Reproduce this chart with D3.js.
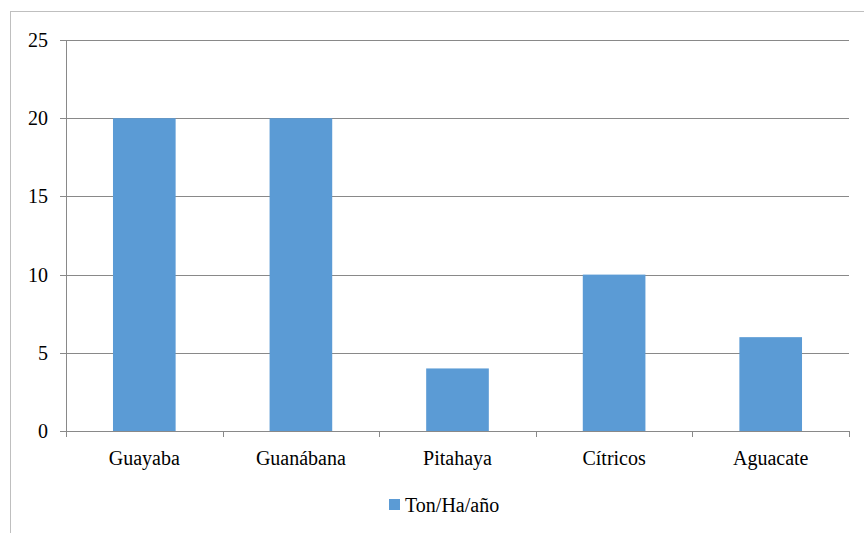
<!DOCTYPE html>
<html><head><meta charset="utf-8">
<script src="https://cdn.jsdelivr.net/npm/d3@7"></script>
</head><body style="margin:0">
<script>
const categories = ["Guayaba","Guanábana","Pitahaya","Cítricos","Aguacate"];
const values = [20,20,4,10,6];
const yTicks = [0,5,10,15,20,25];
const seriesName = "Ton/Ha/año";

const W=864,H=533;
const FONT="'Times New Roman', 'Liberation Serif', Tinos, serif";
const FS="20px";
const svg=d3.select("body").append("svg").attr("width",W).attr("height",H)
  .attr("font-family",FONT).style("font-family",FONT);
// chart border
svg.append("rect").attr("x",10.5).attr("y",11.5).attr("width",900).attr("height",600)
  .attr("fill","none").attr("stroke","#bfbfbf");
const L=66,R=849,T=40,B=431;
const x=d3.scaleBand().domain(categories).range([L,R]).paddingInner(0).paddingOuter(0);
const y=d3.scaleLinear().domain([0,25]).range([B,T]);
// gridlines
svg.append("g").selectAll("line").data(yTicks).join("line")
  .attr("x1",L-6).attr("x2",R).attr("y1",d=>Math.round(y(d))+0.5).attr("y2",d=>Math.round(y(d))+0.5)
  .attr("stroke","#898989").attr("stroke-width",1);
// bars
const bw=x.bandwidth()*0.4;
svg.append("g").selectAll("rect").data(values).join("rect")
  .attr("x",(d,i)=>x(categories[i])+x.bandwidth()/2-bw/2).attr("width",bw)
  .attr("y",d=>y(d)).attr("height",d=>B-y(d)).attr("fill","#5b9bd5");
// y axis line
svg.append("line").attr("x1",L+0.5).attr("x2",L+0.5).attr("y1",T).attr("y2",B).attr("stroke","#898989");
// x axis
svg.append("line").attr("x1",L).attr("x2",R).attr("y1",B+0.5).attr("y2",B+0.5).attr("stroke","#898989");
const bounds=categories.map(c=>x(c)).concat([R]);
svg.append("g").selectAll("line").data(bounds).join("line")
  .attr("x1",d=>Math.round(d)+0.5).attr("x2",d=>Math.round(d)+0.5).attr("y1",B).attr("y2",B+6).attr("stroke","#898989");
// y labels
svg.append("g").selectAll("text").data(yTicks).join("text")
  .attr("x",48).attr("y",d=>y(d)+7)
  .attr("font-family",FONT).style("font-family",FONT).style("font-size",FS)
  .attr("text-anchor","end").text(d=>d);
// x labels
svg.append("g").selectAll("text").data(categories).join("text")
  .attr("x",d=>x(d)+x.bandwidth()/2).attr("y",465)
  .attr("font-family",FONT).style("font-family",FONT).style("font-size",FS)
  .attr("text-anchor","middle").text(d=>d);
// legend
svg.append("rect").attr("x",389).attr("y",499).attr("width",11).attr("height",11).attr("fill","#5b9bd5");
svg.append("text").attr("x",405).attr("y",512)
  .attr("font-family",FONT).style("font-family",FONT).style("font-size",FS).text(seriesName);
</script>
</body></html>
